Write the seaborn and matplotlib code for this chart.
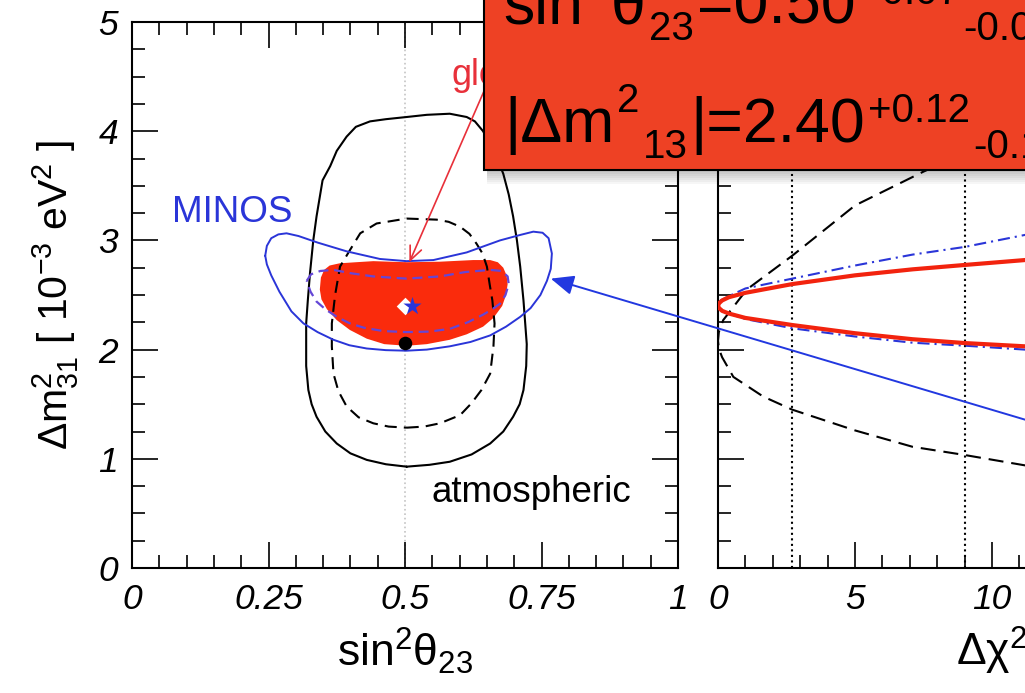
import matplotlib
matplotlib.use("Agg")
import matplotlib.pyplot as plt
import seaborn as sns
from matplotlib.patches import Rectangle, ConnectionPatch
from matplotlib.ticker import MultipleLocator

# ---------------- left panel: allowed regions in (sin^2 theta23, dm2_31) ----------------
atm_outer_s2 = [0.503, 0.545, 0.582, 0.622, 0.656, 0.680, 0.698, 0.710, 0.717, 0.722, 0.723, 0.720,
                0.717, 0.711, 0.705, 0.698, 0.690, 0.680, 0.665, 0.643, 0.628, 0.613, 0.582, 0.540,
                0.503, 0.465, 0.436, 0.410, 0.393, 0.375, 0.363, 0.349, 0.338, 0.332, 0.326, 0.322,
                0.319, 0.319, 0.323, 0.329, 0.338, 0.354, 0.375, 0.400, 0.430, 0.465, 0.503]
atm_outer_dm2 = [0.928, 0.945, 0.973, 1.040, 1.140, 1.250, 1.385, 1.500, 1.630, 1.850, 2.050, 2.250,
                 2.450, 2.760, 3.000, 3.220, 3.420, 3.610, 3.800, 4.000, 4.090, 4.130, 4.160, 4.150,
                 4.130, 4.110, 4.090, 4.040, 3.950, 3.820, 3.680, 3.550, 3.220, 3.000, 2.700, 2.450,
                 2.240, 1.850, 1.630, 1.500, 1.385, 1.250, 1.140, 1.050, 0.990, 0.950, 0.928]

atm_inner_s2 = [0.503, 0.535, 0.564, 0.601, 0.622, 0.640, 0.656, 0.662, 0.664, 0.660, 0.655, 0.650,
                0.642, 0.631, 0.618, 0.601, 0.580, 0.558, 0.503, 0.448, 0.418, 0.399, 0.381, 0.372,
                0.366, 0.366, 0.369, 0.378, 0.393, 0.415, 0.442, 0.470, 0.503]
atm_inner_dm2 = [1.285, 1.295, 1.325, 1.400, 1.510, 1.630, 1.780, 2.030, 2.240, 2.450, 2.600, 2.760,
                 2.880, 2.970, 3.060, 3.125, 3.170, 3.190, 3.200, 3.155, 3.065, 2.910, 2.760, 2.500,
                 2.240, 2.030, 1.780, 1.620, 1.480, 1.380, 1.325, 1.295, 1.285]

minos_outer_s2 = [0.244, 0.247, 0.255, 0.268, 0.283, 0.305, 0.340, 0.393, 0.454, 0.503, 0.552, 0.613,
                  0.674, 0.711, 0.735, 0.752, 0.763, 0.769, 0.767, 0.760, 0.748, 0.730, 0.711, 0.685,
                  0.656, 0.620, 0.582, 0.540, 0.503, 0.465, 0.430, 0.398, 0.369, 0.340, 0.314, 0.292,
                  0.270, 0.255, 0.247, 0.244]
minos_outer_dm2 = [2.86, 2.95, 3.02, 3.055, 3.065, 3.04, 2.98, 2.90, 2.83, 2.81, 2.82, 2.89,
                   3.00, 3.05, 3.08, 3.07, 3.02, 2.88, 2.74, 2.63, 2.50, 2.38, 2.30, 2.21,
                   2.13, 2.07, 2.03, 2.00, 1.99, 1.995, 2.01, 2.04, 2.09, 2.16, 2.24, 2.35,
                   2.53, 2.68, 2.78, 2.86]

minos_inner_s2 = [0.320, 0.328, 0.345, 0.369, 0.400, 0.442, 0.503, 0.564, 0.610, 0.656, 0.677, 0.688,
                  0.690, 0.684, 0.674, 0.660, 0.643, 0.615, 0.582, 0.545, 0.503, 0.460, 0.425, 0.399,
                  0.375, 0.354, 0.338, 0.327, 0.320]
minos_inner_dm2 = [2.63, 2.69, 2.72, 2.73, 2.70, 2.67, 2.65, 2.67, 2.71, 2.73, 2.72, 2.67,
                   2.60, 2.50, 2.42, 2.37, 2.32, 2.25, 2.19, 2.165, 2.16, 2.17, 2.20, 2.24,
                   2.30, 2.37, 2.44, 2.53, 2.63]

global_s2 = [0.344, 0.346, 0.352, 0.362, 0.380, 0.410, 0.442, 0.503, 0.564, 0.625, 0.656, 0.670,
             0.680, 0.686, 0.688, 0.685, 0.678, 0.662, 0.643, 0.613, 0.582, 0.540, 0.503, 0.462,
             0.430, 0.399, 0.375, 0.357, 0.347]
global_dm2 = [2.55, 2.66, 2.73, 2.77, 2.79, 2.80, 2.81, 2.80, 2.805, 2.82, 2.82, 2.80,
              2.75, 2.68, 2.60, 2.50, 2.40, 2.29, 2.21, 2.14, 2.09, 2.05, 2.035, 2.05,
              2.10, 2.18, 2.27, 2.37, 2.46]

# best-fit points
best_global = (0.50, 2.40)
best_minos = (0.513, 2.40)
best_atm = (0.50, 2.06)

# ---------------- right panel: delta chi^2 profiles in dm2_31 ----------------
chi2_global = [12.0, 11.2, 9.0, 7.1, 5.0, 2.71, 1.0, 0.4, 0.15, 0.04, 0.0, 0.04, 0.15, 0.4, 1.0,
               2.71, 5.0, 7.1, 9.0, 11.2, 12.0]
dm2_global = [2.02, 2.03, 2.06, 2.095, 2.15, 2.225, 2.29, 2.33, 2.355, 2.38, 2.40, 2.425, 2.45,
              2.48, 2.52, 2.60, 2.68, 2.735, 2.775, 2.82, 2.835]

chi2_minos = [12.0, 11.2, 9.0, 7.1, 5.0, 2.71, 1.0, 0.4, 0.1, 0.0, 0.1, 0.4, 1.0, 2.71, 5.0, 7.1,
              9.0, 11.2, 12.0]
dm2_minos = [1.99, 2.00, 2.036, 2.063, 2.12, 2.195, 2.28, 2.33, 2.37, 2.41, 2.45, 2.49, 2.56,
             2.65, 2.77, 2.87, 2.94, 3.05, 3.08]

chi2_atm = [12.0, 11.2, 9.0, 7.1, 5.0, 2.71, 1.65, 0.56, 0.15, 0.03, 0.0, 0.03, 0.19, 1.05, 2.71,
            5.0, 7.5, 8.3]
dm2_atm = [0.91, 0.94, 1.035, 1.11, 1.26, 1.45, 1.57, 1.75, 1.93, 2.01, 2.08, 2.16, 2.27, 2.55,
           2.86, 3.32, 3.63, 3.72]

cl_levels = [2.71, 9.0]

# ticks
s2_ticks = [0, 0.25, 0.5, 0.75, 1.0]
s2_ticklabels = ["0", "0.25", "0.5", "0.75", "1"]
dm2_ticks = [0, 1, 2, 3, 4, 5]
dm2_ticklabels = ["0", "1", "2", "3", "4", "5"]
chi2_ticks = [0, 5, 10, 15, 20]
chi2_ticklabels = ["0", "5", "10", "15", "20"]

# ---------------- style ----------------
sns.set_style("ticks")
plt.rcParams["font.family"] = ["Liberation Sans", "DejaVu Sans"]
plt.rcParams["mathtext.fontset"] = "custom"
plt.rcParams["mathtext.rm"] = "Liberation Sans"
plt.rcParams["mathtext.it"] = "Liberation Sans:italic"
plt.rcParams["mathtext.bf"] = "Liberation Sans:bold"
plt.rcParams["mathtext.sf"] = "Liberation Sans"
for key in ("text.color", "axes.labelcolor", "xtick.color", "ytick.color",
            "xtick.labelcolor", "ytick.labelcolor", "axes.edgecolor"):
    plt.rcParams[key] = "black"

RED_FILL = "#FA2B0C"
RED_LINE = "#F2230E"
BLUE = "#2A35D8"
PURPLE = "#6447D6"
BOX = "#EE4124"
TICK_SIZE = 25.5

W, H = 1025, 693
fig = plt.figure(figsize=(W / 100, H / 100), dpi=100)
fig.patch.set_facecolor("white")


def px_rect(left, top, right, bottom):
    return [left / W, 1 - bottom / H, (right - left) / W, (bottom - top) / H]


ax1 = fig.add_axes(px_rect(132, 22, 678, 568))
ax2 = fig.add_axes(px_rect(718, 22, 1266, 568))

for ax in (ax1, ax2):
    ax.set_facecolor("white")
    ax.set_ylim(0, 5)
    ax.yaxis.set_major_locator(MultipleLocator(1))
    ax.yaxis.set_minor_locator(MultipleLocator(0.25))
    for sp in ax.spines.values():
        sp.set_visible(True)
        sp.set_linewidth(1.5)
        sp.set_color("black")
    ax.tick_params(which="both", direction="in", top=True, bottom=True, left=True, right=True,
                   width=1.2, color="black", labelcolor="black")
    ax.tick_params(which="major", length=19)
    ax.tick_params(which="minor", length=9.5)

# ---------------- left panel ----------------
ax1.axvline(0.5, color="#c4c4c4", ls=":", lw=1.2, zorder=0)
ax1.fill(global_s2, global_dm2, color=RED_FILL, lw=0, zorder=1)

sns.lineplot(x=atm_outer_s2, y=atm_outer_dm2, sort=False, estimator=None, ax=ax1,
             color="black", lw=1.5, zorder=3)
sns.lineplot(x=atm_inner_s2, y=atm_inner_dm2, sort=False, estimator=None, ax=ax1,
             color="black", lw=1.5, linestyle=(0, (5.8, 3.4)), zorder=3)
sns.lineplot(x=minos_outer_s2, y=minos_outer_dm2, sort=False, estimator=None, ax=ax1,
             color=BLUE, lw=1.4, zorder=4)
sns.lineplot(x=minos_inner_s2, y=minos_inner_dm2, sort=False, estimator=None, ax=ax1,
             color=PURPLE, lw=1.6, linestyle=(0, (4.5, 2.6)), zorder=4)

sns.scatterplot(x=[best_global[0]], y=[best_global[1]], marker="D", s=80, color="white",
                edgecolor="white", linewidth=0, ax=ax1, zorder=6)
sns.scatterplot(x=[best_minos[0]], y=[best_minos[1]], marker="*", s=190, color=BLUE,
                edgecolor=BLUE, linewidth=0, ax=ax1, zorder=7)
sns.scatterplot(x=[best_atm[0]], y=[best_atm[1]], marker="o", s=95, color="black",
                edgecolor="black", linewidth=0, ax=ax1, zorder=7)

ax1.text(0.073, 3.17, "MINOS", color=BLUE, fontsize=26.5, ha="left", va="baseline")
ax1.text(0.549, 0.60, "atmospheric", color="black", fontsize=26.5, ha="left", va="baseline")
ax1.text(0.585, 4.42, "global", color="#E8303A", fontsize=26, ha="left", va="baseline")
ax1.annotate("", xy=(0.508, 2.80), xytext=(0.665, 4.6),
             arrowprops=dict(arrowstyle="->,head_length=0.5,head_width=0.22", color="#E8303A",
                             lw=1.2, shrinkA=0, shrinkB=0, mutation_scale=20), zorder=8)

ax1.set_xlim(0, 1)
ax1.xaxis.set_major_locator(MultipleLocator(0.25))
ax1.xaxis.set_minor_locator(MultipleLocator(0.05))
ax1.set_xticks(s2_ticks)
ax1.set_xticklabels(s2_ticklabels, fontsize=TICK_SIZE, fontstyle="italic", color="black")
ax1.set_yticks(dm2_ticks)
ax1.set_yticklabels(dm2_ticklabels, fontsize=TICK_SIZE, fontstyle="italic", color="black")
ax1.tick_params(axis="x", which="major", pad=11)
ax1.tick_params(axis="y", which="major", pad=10)
ax1.set_xlabel("sin$^2$θ$_{23}$", fontsize=32, color="black")
ax1.set_ylabel("Δm$^2_{31}$ [ 10$^{-3}$ eV$^2$ ]", fontsize=29.5, color="black")
ax1.xaxis.set_label_coords(0.5, -0.105)
ax1.yaxis.set_label_coords(-0.093, 0.5)

# ---------------- right panel ----------------
for lev in cl_levels:
    ax2.axvline(lev, color="black", ls=":", lw=1.5, zorder=1)
sns.lineplot(x=chi2_atm, y=dm2_atm, sort=False, estimator=None, ax=ax2,
             color="black", lw=1.5, linestyle=(0, (7.2, 3.8)), zorder=2)
sns.lineplot(x=chi2_minos, y=dm2_minos, sort=False, estimator=None, ax=ax2,
             color=BLUE, lw=1.5, linestyle=(0, (5.8, 2.4, 1.0, 2.4)), zorder=3)
sns.lineplot(x=chi2_global, y=dm2_global, sort=False, estimator=None, ax=ax2,
             color=RED_LINE, lw=3.0, zorder=4)

ax2.set_xlim(0, 20)
ax2.xaxis.set_minor_locator(MultipleLocator(1))
ax2.set_xticks(chi2_ticks)
ax2.set_xticklabels(chi2_ticklabels, fontsize=TICK_SIZE, fontstyle="italic", color="black")
ax2.set_yticks(dm2_ticks)
ax2.tick_params(labelleft=False)
ax2.tick_params(axis="x", which="major", pad=11)
ax2.set_xlabel("Δχ$^2$", fontsize=32, color="black")
ax2.set_ylabel("")
ax2.xaxis.set_label_coords(0.5, -0.105)

# arrow linking the MINOS profile to its contour
arrow = ConnectionPatch(xyA=(14.0, 1.15), coordsA=ax2.transData,
                        xyB=(0.767, 2.65), coordsB=ax1.transData,
                        arrowstyle="-|>,head_length=0.7,head_width=0.3", mutation_scale=20,
                        color="#2238E0", lw=1.4, shrinkA=0, shrinkB=0, zorder=5)
fig.add_artist(arrow)

# ---------------- result box ----------------
bx0, by0 = 484, 170
for k in range(1, 8):
    fig.add_artist(Rectangle(((bx0 + 3) / W, 1 - (by0 + 2 * k) / H), 700 / W, (2 * k) / H,
                             transform=fig.transFigure, facecolor="black", edgecolor="none",
                             alpha=0.035, zorder=9))
fig.add_artist(Rectangle((bx0 / W, 1 - by0 / H), 700 / W, 250 / H, transform=fig.transFigure,
                         facecolor=BOX, edgecolor="black", lw=1.5, zorder=10))

renderer = fig.canvas.get_renderer()


def write_run(pieces, x_start, baseline, gap=3):
    x = x_start
    for text, size, shift in pieces:
        t = fig.text(x / W, 1 - (baseline + shift) / H, text, fontsize=size,
                     ha="left", va="baseline", color="black", zorder=12)
        x = t.get_window_extent(renderer).x1 + gap


write_run([("sin", 45, 0), ("2", 29, -30), ("θ", 45, 0), ("23", 29, 16),
           ("=0.50", 45, 0), ("+0.07", 29, -20), ("-0.06", 29, 16)], 503, 24)
write_run([("|Δm", 45, 0), ("2", 29, -30), ("13", 29, 16), ("|=2.40", 45, 0),
           ("+0.12", 29, -20), ("-0.11", 29, 16)], 504, 142)

fig.savefig("out.png", dpi=100, facecolor="white")
